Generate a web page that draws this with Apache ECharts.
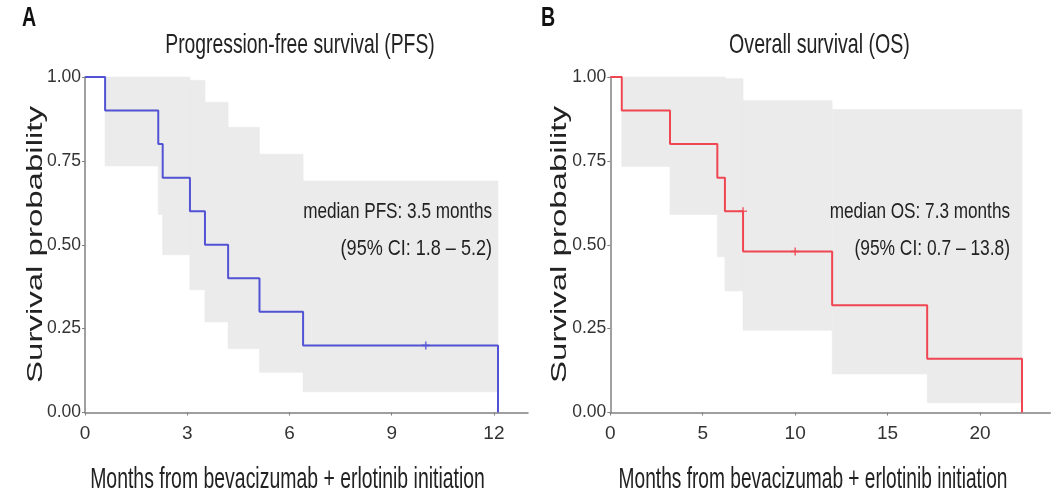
<!DOCTYPE html>
<html>
<head>
<meta charset="utf-8">
<script src="https://cdn.jsdelivr.net/npm/echarts@6/dist/echarts.min.js"></script>
<style>
html,body{margin:0;padding:0;background:#fff;}
#chart{width:1054px;height:499px;}
</style>
</head>
<body>
<div id="chart"></div>
<script>
// ---------- DATA ----------
// Panel A: progression-free survival (Kaplan-Meier step curve)
const pfsTimes = [0, 0.59, 2.15, 2.28, 3.08, 3.52, 4.2, 5.12, 6.4, 12.12];
const pfsSurv  = [1, 0.9, 0.8, 0.7, 0.6, 0.5, 0.4, 0.3, 0.2, 0];
const pfsCensorTimes = [10.0];
const pfsCensorSurv  = [0.2];
// 95% confidence band, one segment per interval
const pfsCiStart = [0.59, 2.15, 2.28, 3.08, 3.52, 4.2, 5.12, 6.4];
const pfsCiEnd   = [2.15, 2.28, 3.08, 3.52, 4.2, 5.12, 6.4, 12.12];
const pfsCiLower = [0.735, 0.59, 0.47, 0.366, 0.27, 0.19, 0.12, 0.062];
const pfsCiUpper = [1.0, 1.0, 1.0, 0.99, 0.925, 0.85, 0.77, 0.69];

// Panel B: overall survival
const osTimes = [0, 0.62, 3.23, 5.79, 6.2, 7.18, 12.0, 17.14, 22.27];
const osSurv  = [1, 0.9, 0.8, 0.7, 0.6, 0.48, 0.32, 0.16, 0];
const osCensorTimes = [7.18, 10.0];
const osCensorSurv  = [0.6, 0.48];
const osCiStart = [0.62, 3.23, 5.79, 6.2, 7.18, 12.0, 17.14];
const osCiEnd   = [3.23, 5.79, 6.2, 7.18, 12.0, 17.14, 22.27];
const osCiLower = [0.733, 0.59, 0.464, 0.362, 0.245, 0.115, 0.029];
const osCiUpper = [1.0, 1.0, 1.0, 0.995, 0.93, 0.903, 0.903];

// Tick labels
const yTicks = [0, 0.25, 0.5, 0.75, 1];
const pfsXTicks = [0, 3, 6, 9, 12];
const osXTicks = [0, 5, 10, 15, 20];

// Texts
const titleA = 'Progression-free survival (PFS)';
const titleB = 'Overall survival (OS)';
const xName = 'Months from bevacizumab + erlotinib initiation';
const yName = 'Survival probability';
const annA1 = 'median PFS: 3.5 months';
const annA2 = '(95% CI: 1.8 \u2013 5.2)';
const annB1 = 'median OS: 7.3 months';
const annB2 = '(95% CI: 0.7 \u2013 13.8)';

// ---------- BUILD ----------
const zip = (a, b) => a.map((v, i) => [v, b[i]]);
const bandRows = (s, e, lo, hi) => s.map((v, i) => [v, e[i], lo[i], hi[i]]);

const SANS = "'Liberation Sans', Arial, sans-serif";
const AXIS_COLOR = '#808080';
const BAND = '#ebebeb';
const BLUE = '#5252d4';
const RED = '#f04652';
const PLUS = 'path://M4,0h2v4h4v2h-4v4h-2v-4h-4v-2h4z';

function xAxis(gridIndex, max, ticks) {
  return {
    type: 'value', gridIndex, min: 0, max,
    splitLine: {show: false},
    axisLine: {onZero: false, lineStyle: {color: AXIS_COLOR, width: 1.5}},
    axisTick: {show: true, length: 3, customValues: ticks, lineStyle: {color: AXIS_COLOR}},
    axisLabel: {customValues: ticks, color: '#333', fontFamily: SANS, fontSize: 19, margin: 12}
  };
}
function yAxis(gridIndex) {
  return {
    type: 'value', gridIndex, min: 0, max: 1,
    splitLine: {show: false},
    axisLine: {show: true, onZero: false, lineStyle: {color: AXIS_COLOR, width: 1.5}},
    axisTick: {show: true, length: 3, customValues: yTicks, lineStyle: {color: AXIS_COLOR}},
    axisLabel: {customValues: yTicks, color: '#333', fontFamily: SANS, fontSize: 17.5, margin: 4,
      formatter: v => v.toFixed(2)}
  };
}
function band(idx, rows) {
  return {
    type: 'custom', xAxisIndex: idx, yAxisIndex: idx, z: 1, silent: true,
    encode: {x: [0, 1], y: [2, 3]},
    data: rows,
    renderItem: (params, api) => {
      const p0 = api.coord([api.value(0), api.value(3)]);
      const p1 = api.coord([api.value(1), api.value(2)]);
      return {type: 'rect',
        shape: {x: p0[0], y: p0[1], width: p1[0] - p0[0], height: p1[1] - p0[1]},
        style: {fill: BAND, stroke: BAND, lineWidth: 0.6}};
    }
  };
}
function curve(idx, data, color) {
  return {type: 'line', step: 'end', xAxisIndex: idx, yAxisIndex: idx, z: 3,
    symbol: 'none', data, lineStyle: {color, width: 2}, silent: true};
}
function censor(idx, data, color) {
  return {type: 'scatter', xAxisIndex: idx, yAxisIndex: idx, z: 4, symbol: PLUS,
    symbolSize: 8, itemStyle: {color}, data, silent: true};
}
function txt(x, y, text, size, sx, opts) {
  opts = opts || {};
  return {type: 'text', x, y, scaleX: sx, scaleY: opts.sy || 1, rotation: opts.rot || 0,
    style: {text, fill: opts.fill || '#222', font: (opts.weight || 'normal') + ' ' + size + 'px ' + SANS,
      align: opts.align || 'center', verticalAlign: 'middle'}, z: 10};
}

const option = {
  animation: false,
  backgroundColor: '#fff',
  grid: [
    {left: 85, top: 77, width: 443, height: 335.5},
    {left: 610.3, top: 77, width: 440, height: 335.5}
  ],
  xAxis: [xAxis(0, 13, pfsXTicks), xAxis(1, 23.8, osXTicks)],
  yAxis: [yAxis(0), yAxis(1)],
  series: [
    band(0, bandRows(pfsCiStart, pfsCiEnd, pfsCiLower, pfsCiUpper)),
    curve(0, zip(pfsTimes, pfsSurv), BLUE),
    censor(0, zip(pfsCensorTimes, pfsCensorSurv), BLUE),
    band(1, bandRows(osCiStart, osCiEnd, osCiLower, osCiUpper)),
    curve(1, zip(osTimes, osSurv), RED),
    censor(1, zip(osCensorTimes, osCensorSurv), RED)
  ],
  graphic: [
    txt(29, 18, 'A', 28, 0.7, {weight: 'bold', fill: '#111'}),
    txt(548, 18, 'B', 28, 0.7, {weight: 'bold', fill: '#111'}),
    txt(300, 45, titleA, 28, 0.69),
    txt(819.5, 45, titleB, 28, 0.70),
    txt(287.5, 480, xName, 29, 0.67),
    txt(813, 480, xName, 29, 0.66),
    txt(36, 244.5, yName, 33, 1, {sy: 0.68, rot: Math.PI / 2}),
    txt(560, 244.5, yName, 33, 1, {sy: 0.68, rot: Math.PI / 2}),
    txt(492, 212, annA1, 22, 0.78, {align: 'right'}),
    txt(492, 248.5, annA2, 22, 0.82, {align: 'right'}),
    txt(1010, 212, annB1, 22, 0.78, {align: 'right'}),
    txt(1010, 248.5, annB2, 22, 0.79, {align: 'right'})
  ]
};

const chart = echarts.init(document.getElementById('chart'), null, {renderer: 'canvas'});
chart.setOption(option);
</script>
</body>
</html>
